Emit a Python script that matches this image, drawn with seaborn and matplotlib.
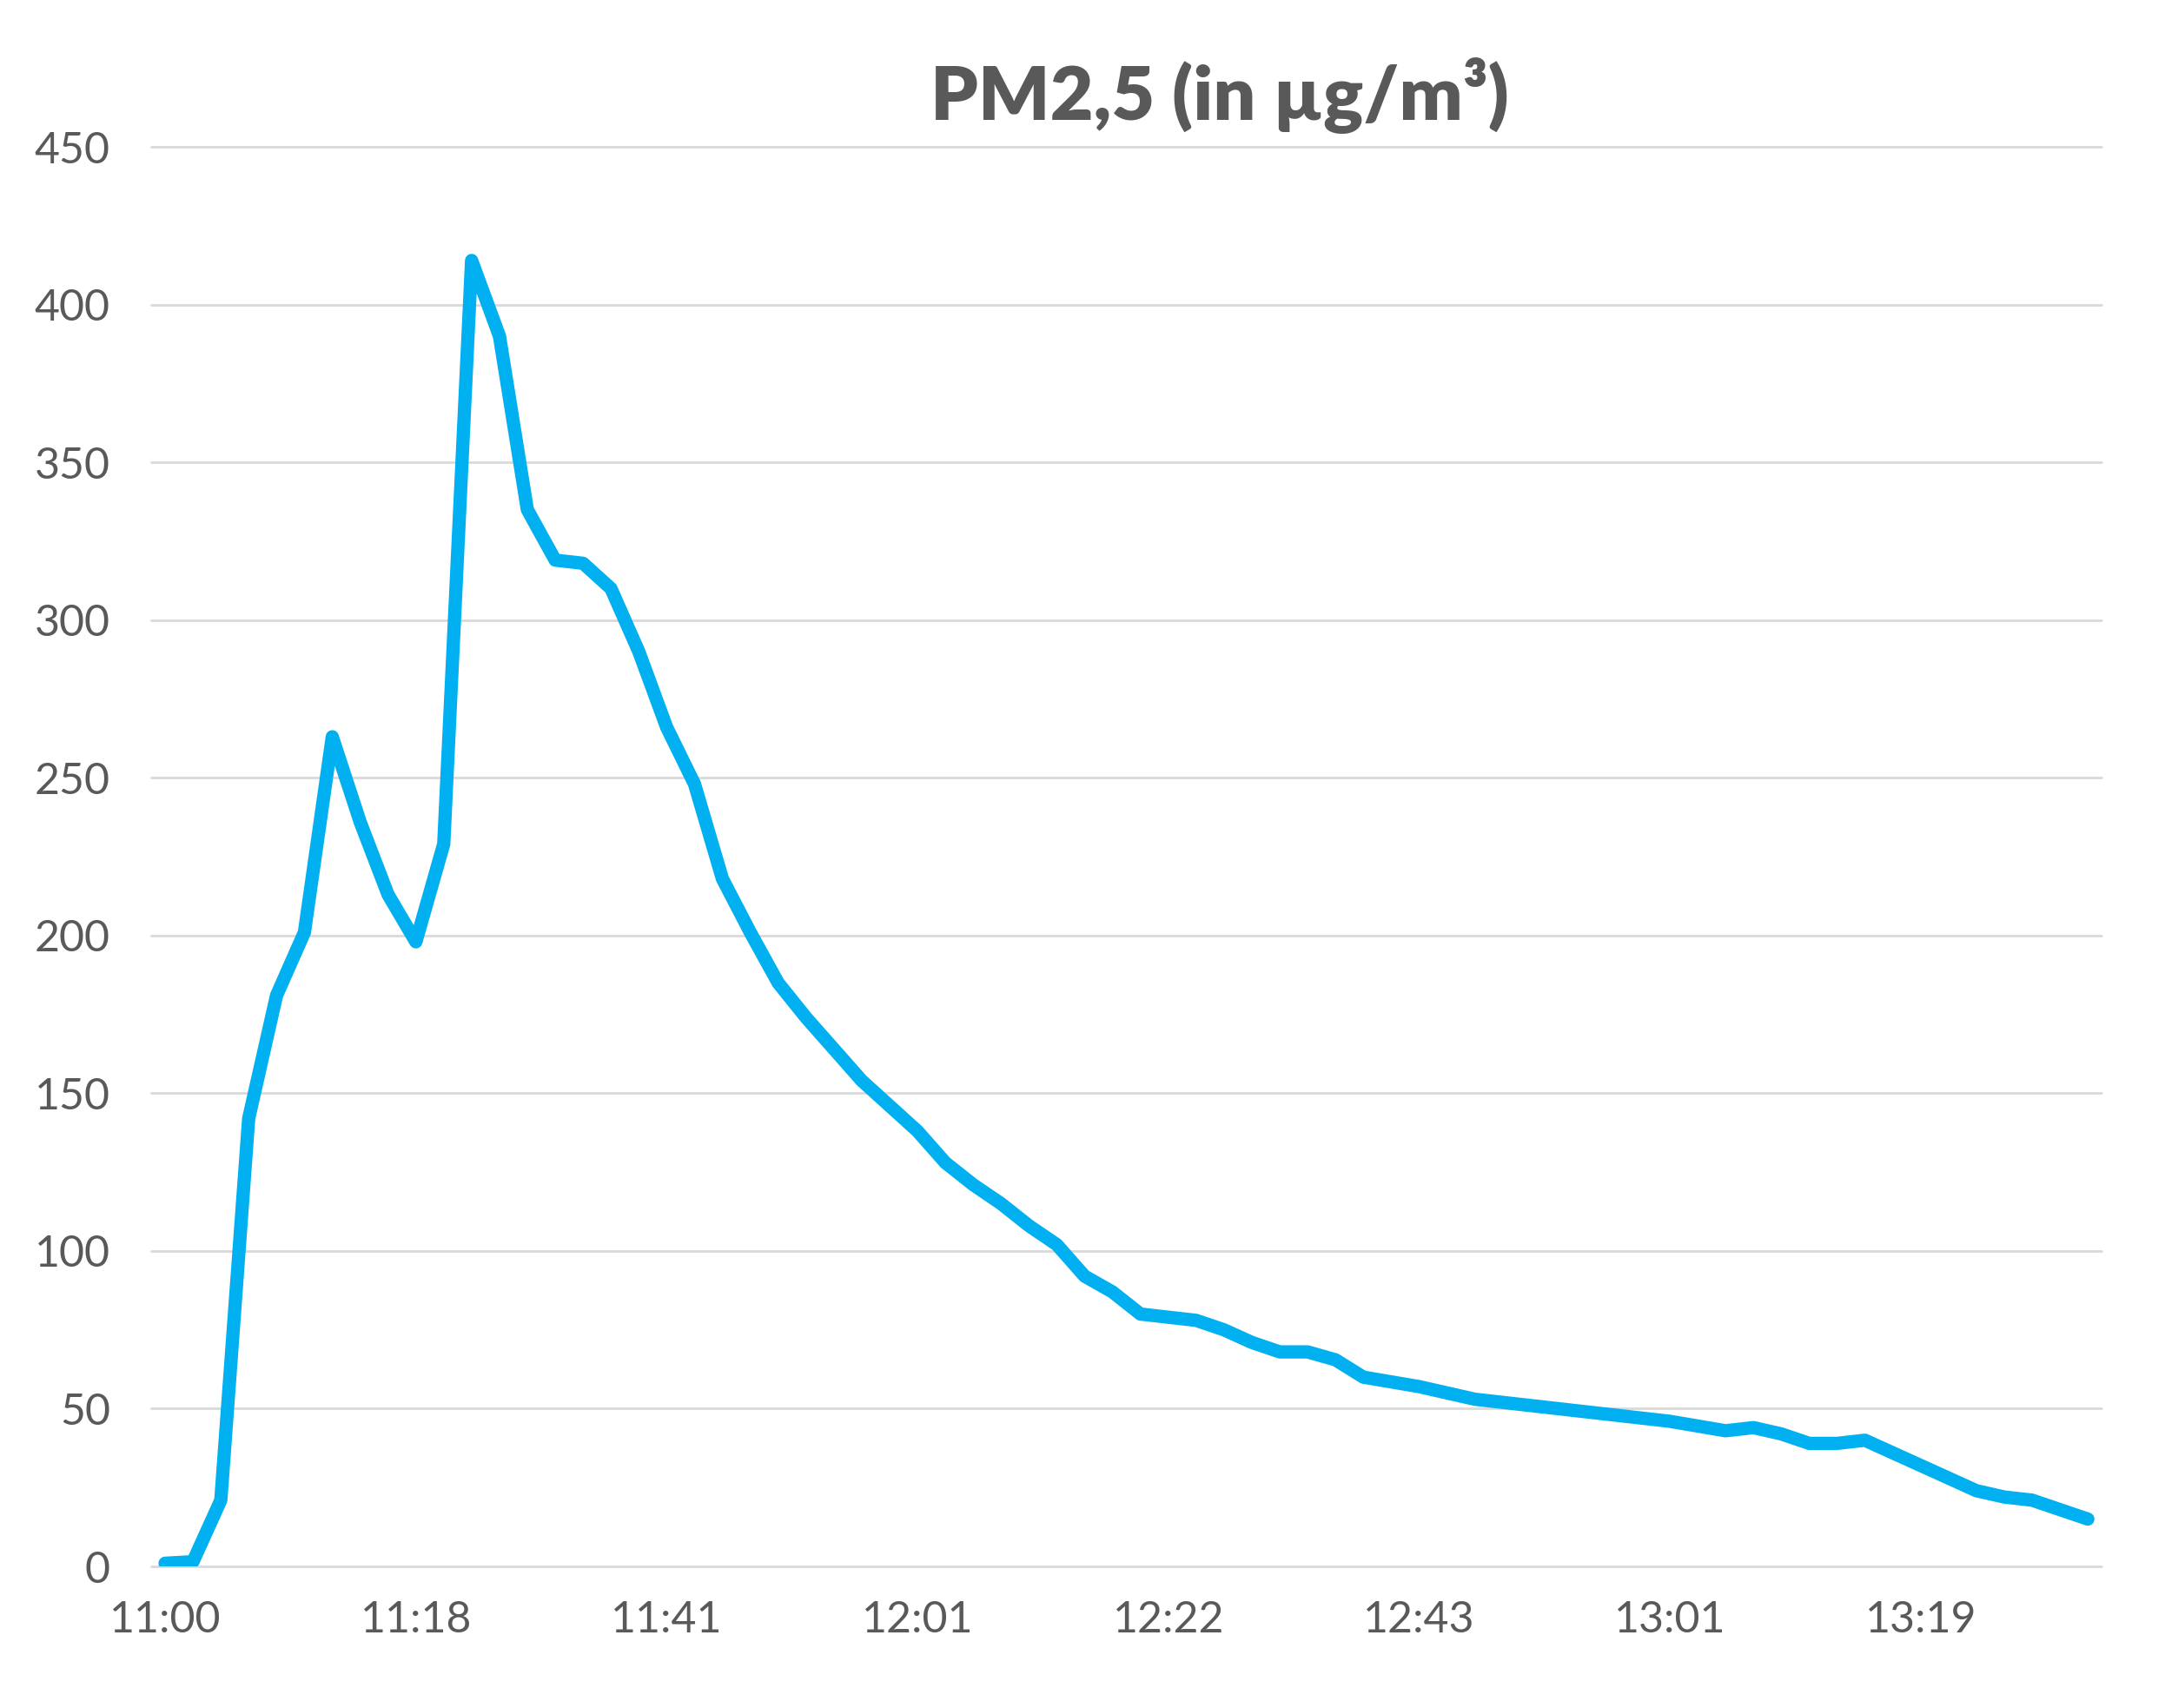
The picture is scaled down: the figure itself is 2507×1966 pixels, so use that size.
import numpy as np
import pandas as pd
import matplotlib.pyplot as plt
import seaborn as sns

# PM2.5 readings, one per sample (70 samples)
pm25 = [1, 1.5, 21, 142, 181, 201, 263, 236, 213, 198,
        229, 414, 390, 335, 319, 318, 310, 290, 266, 248,
        218, 201, 185, 174, 164, 154, 146, 138, 128, 121,
        115, 108, 102, 92, 87, 80, 79, 78, 75, 71,
        68, 68, 65.5, 60, 58.5, 57, 55, 53, 52, 51,
        50, 49, 48, 47, 46, 44.5, 43, 44, 42, 39,
        39, 40, 36, 32, 28, 24, 22, 21, 18, 15]
time_labels = ["11:00", "11:18", "11:41", "12:01", "12:22", "12:43", "13:01", "13:19"]
label_step = 9
y_ticks = [0, 50, 100, 150, 200, 250, 300, 350, 400, 450]

df = pd.DataFrame({"sample": np.arange(len(pm25)), "pm25": pm25})

sns.set_style("white")
plt.rcParams['font.family'] = ['Lato', 'DejaVu Sans']

fig = plt.figure(figsize=(2507 / 200, 1966 / 200), dpi=200)
ax = fig.add_axes([0.0694, 0.0829, 0.8956, 0.8311])

sns.lineplot(data=df, x="sample", y="pm25", ax=ax, color="#00B0F0",
             linewidth=5.5, solid_capstyle="round", solid_joinstyle="round")

ax.set_xlim(-0.5, len(pm25) - 0.5)
ax.set_ylim(0, 450)
ax.set_yticks(y_ticks)
ax.set_xticks(np.arange(0, len(pm25), label_step)[:len(time_labels)])
ax.set_xticklabels(time_labels)
ax.grid(axis="y", color="#D9D9D9", linewidth=1.0)
for gl in ax.get_ygridlines():
    gl.set_clip_on(False)
ax.set_axisbelow(True)
for s in ax.spines.values():
    s.set_visible(False)
ax.tick_params(axis="both", length=0, labelsize=18, colors="#595959")
ax.tick_params(axis="y", pad=17)
ax.tick_params(axis="x", pad=14)
ax.set_xlabel("")
ax.set_ylabel("")

fig.text(0.56, 0.944, "PM2,5 (in µg/m³)", ha="center", va="center",
         fontsize=31, fontweight="heavy", color="#595959")

fig.savefig("out.png", dpi=200)
